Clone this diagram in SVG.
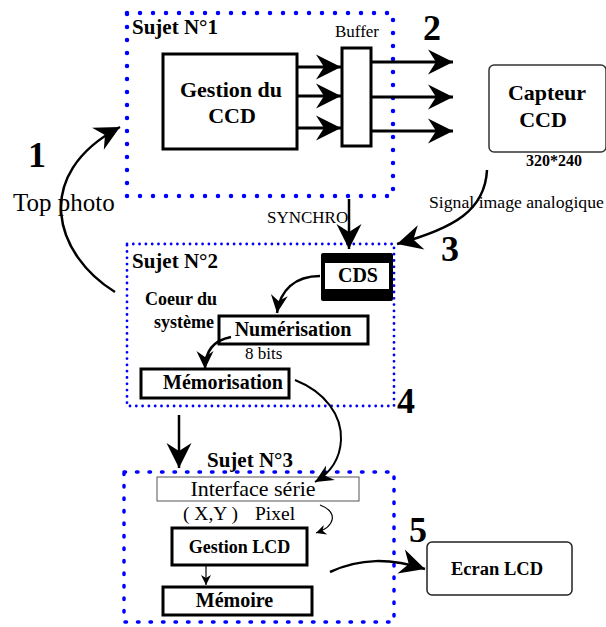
<svg xmlns="http://www.w3.org/2000/svg" width="606" height="627" viewBox="0 0 606 627">
<defs>
<marker id="big" markerUnits="userSpaceOnUse" markerWidth="26" markerHeight="26" refX="25" refY="12.5" orient="auto" viewBox="0 0 26 26" overflow="visible">
<path d="M0,0 L25,12.5 L0,25 L8,12.5 Z" fill="#000"/>
</marker>
<marker id="med" markerUnits="userSpaceOnUse" markerWidth="20" markerHeight="20" refX="18" refY="8.5" orient="auto" viewBox="0 0 20 20" overflow="visible">
<path d="M0,0 L18,8.5 L0,17 L6,8.5 Z" fill="#000"/>
</marker>
<marker id="small" markerUnits="userSpaceOnUse" markerWidth="12" markerHeight="12" refX="10" refY="5" orient="auto" viewBox="0 0 12 12" overflow="visible">
<path d="M0,0 L10,5 L0,10 L3,5 Z" fill="#000"/>
</marker>
</defs>
<style>
text{font-family:"Liberation Serif","Times New Roman",serif;fill:#000}
.b{font-weight:bold}
.num{font-weight:bold;font-size:36px;text-anchor:middle}
.sujet{font-weight:bold;font-size:21px}
.box{fill:#fff;stroke:#000;stroke-width:3}
.dot{fill:none;stroke:#0000ff;stroke-linecap:round}
.c{fill:none;stroke:#000}
</style>

<g id="sujet1">
<rect class="dot" x="127" y="13" width="266" height="183" stroke-width="4.5" stroke-dasharray="0 13"/>
<text class="sujet" x="132" y="34">Sujet N°1</text>
</g>
<g id="gestion-ccd">
<rect class="box" x="163" y="54" width="134" height="95" stroke-width="4"/>
<text class="b" x="231" y="97" font-size="22" text-anchor="middle">Gestion du</text>
<text class="b" x="232" y="123" font-size="22" text-anchor="middle">CCD</text>
</g>
<g id="buffer">
<rect class="box" x="342" y="48" width="29" height="98" stroke-width="2.5"/>
<text x="357" y="37" font-size="17" text-anchor="middle">Buffer</text>
</g>
<g id="capteur">
<rect x="489" y="65" width="117" height="87" rx="5" fill="#fff" stroke="#333" stroke-width="1.5"/>
<text class="b" x="547" y="100" font-size="22" text-anchor="middle">Capteur</text>
<text class="b" x="543" y="127" font-size="22" text-anchor="middle">CCD</text>
<text class="b" x="554" y="166" font-size="16" text-anchor="middle">320*240</text>
</g>
<g id="sujet2">
<rect class="dot" x="127" y="244" width="267" height="162" stroke-width="2.8" stroke-dasharray="0 6.3"/>
<text class="sujet" x="132" y="268">Sujet N°2</text>
<text class="b" x="181" y="305" font-size="18" text-anchor="middle">Coeur du</text>
<text class="b" x="184" y="328" font-size="18" text-anchor="middle">système</text>
</g>
<g id="cds">
<rect x="321" y="253" width="72" height="48" rx="2" fill="#000"/>
<rect x="325" y="263" width="64" height="26" fill="#fff"/>
<text class="b" x="358" y="282" font-size="20" text-anchor="middle">CDS</text>
</g>
<g id="numerisation">
<rect class="box" x="219" y="316" width="149" height="28"/>
<text class="b" x="293" y="336" font-size="20" text-anchor="middle">Numérisation</text>
<text x="245" y="359" font-size="17">8 bits</text>
</g>
<g id="memorisation">
<rect class="box" x="141" y="369" width="148" height="29"/>
<text class="b" x="223" y="389" font-size="20" text-anchor="middle">Mémorisation</text>
</g>
<g id="sujet3">
<rect class="dot" x="124" y="472" width="270" height="150" stroke-width="3.5" stroke-dasharray="1.5 11"/>
<text class="sujet" x="207" y="467">Sujet N°3</text>
</g>
<g id="interface">
<rect x="157" y="477" width="202" height="24" fill="#fff" stroke="#555" stroke-width="1"/>
<text x="253" y="496" font-size="22" text-anchor="middle">Interface série</text>
<text x="183" y="520" font-size="19.5">( X,Y )</text>
<text x="255" y="520" font-size="19.5">Pixel</text>
</g>
<g id="gestion-lcd">
<rect class="box" x="172" y="528" width="135" height="37"/>
<text class="b" x="239.5" y="553" font-size="18" text-anchor="middle">Gestion LCD</text>
</g>
<g id="memoire">
<rect class="box" x="163" y="587" width="149" height="28"/>
<text class="b" x="234.5" y="607" font-size="20" text-anchor="middle">Mémoire</text>
</g>
<g id="ecran">
<rect x="427" y="542" width="145" height="53" rx="5" fill="#fff" stroke="#222" stroke-width="1.5"/>
<text class="b" x="497" y="575" font-size="18.5" text-anchor="middle">Ecran LCD</text>
</g>
<g id="labels">
<text class="num" x="37" y="167">1</text>
<text class="num" x="432" y="40">2</text>
<text class="num" x="450" y="261">3</text>
<text class="num" x="406" y="413">4</text>
<text class="num" x="418" y="542">5</text>
<text x="13" y="211" font-size="25">Top photo</text>
<text x="267" y="223" font-size="17">SYNCHRO</text>
<text x="429" y="208" font-size="17.7">Signal image analogique</text>
</g>
<g id="connectors">
<path class="c" stroke-width="3" d="M297,67 H341" marker-end="url(#big)"/>
<path class="c" stroke-width="3" d="M297,96 H341" marker-end="url(#big)"/>
<path class="c" stroke-width="3" d="M297,128 H341" marker-end="url(#big)"/>
<path class="c" stroke-width="3" d="M371,62 H453" marker-end="url(#big)"/>
<path class="c" stroke-width="3" d="M371,97 H453" marker-end="url(#big)"/>
<path class="c" stroke-width="3" d="M371,131 H453" marker-end="url(#big)"/>
<path class="c" stroke-width="2.5" d="M349,199 V249" marker-end="url(#big)"/>
<path class="c" stroke-width="2.5" d="M487,170 C485,210 455,228 397,244" marker-end="url(#big)"/>
<path class="c" stroke-width="2.5" d="M115,292 C55,255 30,175 120,127" marker-end="url(#big)"/>
<path class="c" stroke-width="2.5" d="M320,276 C295,276 280,290 277,313" marker-end="url(#med)"/>
<path class="c" stroke-width="2.5" d="M231,337 C215,340 205,350 205,369" marker-end="url(#med)"/>
<path class="c" stroke-width="2" d="M295,380 C325,392 342,415 341,440 C340,460 330,473 315,482" marker-end="url(#med)"/>
<path class="c" stroke-width="2.5" d="M179,415 V468" marker-end="url(#big)"/>
<path class="c" stroke-width="1.2" d="M320,505 C338,512 336,526 316,533" marker-end="url(#small)"/>
<path class="c" stroke-width="1.2" d="M206,565 V585" marker-end="url(#small)"/>
<path class="c" stroke-width="2.5" d="M330,572 C360,558 390,558 425,569" marker-end="url(#big)"/>
</g>
</svg>
